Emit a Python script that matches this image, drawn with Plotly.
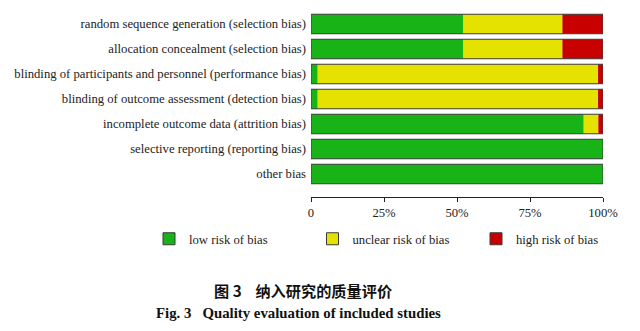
import plotly.graph_objects as go

# Risk-of-bias domains (top to bottom)
domains = [
    "random sequence generation (selection bias)",
    "allocation concealment (selection bias)",
    "blinding of participants and personnel (performance bias)",
    "blinding of outcome assessment (detection bias)",
    "incomplete outcome data (attrition bias)",
    "selective reporting (reporting bias)",
    "other bias",
]

# Percentage of studies per judgement
low_risk = [52.2, 52.2, 2.3, 2.3, 93.4, 100.0, 100.0]
unclear_risk = [33.9, 33.9, 96.0, 96.0, 5.0, 0.0, 0.0]
high_risk = [13.9, 13.9, 1.7, 1.7, 1.6, 0.0, 0.0]

series_names = ["low risk of bias", "unclear risk of bias", "high risk of bias"]
series_colors = ["#17b317", "#e6e200", "#c80000"]

x_tick_vals = [0, 25, 50, 75, 100]
x_tick_text = ["0", "25%", "50%", "75%", "100%"]

pos = list(range(len(domains)))
serif = "Liberation Serif, Times New Roman, serif"
bar_w = 0.78
ink = "#222222"

fig = go.Figure()

# stacked segments, drawn with explicit bases
base = [0.0] * len(domains)
for name, vals, col in zip(series_names, [low_risk, unclear_risk, high_risk], series_colors):
    fig.add_trace(go.Bar(
        y=pos, x=vals, base=list(base), orientation="h", width=bar_w,
        marker=dict(color=col, line=dict(width=0)),
        name=name, showlegend=False, hoverinfo="x+name",
    ))
    base = [b + v for b, v in zip(base, vals)]

# outline around each full bar
fig.add_trace(go.Bar(
    y=pos, x=base, base=[0.0] * len(domains), orientation="h", width=bar_w,
    marker=dict(color="rgba(0,0,0,0)", line=dict(color="#3a3a3a", width=1)),
    showlegend=False, hoverinfo="skip",
))

# legend keys with dark outline
for name, col in zip(series_names, series_colors):
    fig.add_trace(go.Bar(
        y=[None], x=[None], orientation="h", name=name,
        marker=dict(color=col, line=dict(color="#3a3a3a", width=1)),
        showlegend=True,
    ))

fig.update_layout(
    width=640, height=331,
    margin=dict(l=311, r=37, t=5, b=134),
    paper_bgcolor="white", plot_bgcolor="white",
    barmode="overlay",
    font=dict(family=serif, size=12.7, color=ink),
    xaxis=dict(
        range=[0, 100], tickvals=x_tick_vals, ticktext=x_tick_text,
        showgrid=False, zeroline=False, showline=True, linecolor=ink, linewidth=1,
        ticks="outside", ticklen=4, tickcolor=ink, tickwidth=1,
        tickfont=dict(family=serif, size=12.7, color=ink),
        fixedrange=True,
    ),
    # second axis only to draw the upper half of the crossing ticks
    xaxis2=dict(
        overlaying="x", matches="x", anchor="y", side="bottom",
        tickvals=x_tick_vals, showticklabels=False, showgrid=False, zeroline=False,
        showline=False, ticks="inside", ticklen=4, tickcolor=ink, tickwidth=1,
        fixedrange=True,
    ),
    yaxis=dict(
        range=[6.92, -0.76], tickvals=pos, ticktext=domains,
        showgrid=False, zeroline=False, showline=False, ticks="",
        ticklabelstandoff=4,
        tickfont=dict(family=serif, size=12.7, color=ink),
        fixedrange=True,
    ),
    legend=dict(
        orientation="h", x=(149 - 311) / 292, xanchor="left", y=(197 - 239) / 192, yanchor="middle",
        entrywidth=118.5, entrywidthmode="pixels",
        font=dict(family=serif, size=12.7, color=ink),
        bgcolor="rgba(0,0,0,0)", traceorder="normal",
    ),
    annotations=[
        dict(text="<b>图 3\u00a0\u00a0\u00a0\u00a0纳入研究的质量评价</b>", xref="paper", yref="paper",
             x=(302.5 - 311) / 292, y=(197 - 289.5) / 192, xanchor="center", yanchor="middle",
             showarrow=False, font=dict(family="Noto Sans CJK SC", size=15.2, color="#111111")),
        dict(text="<b>Fig. 3\u00a0\u00a0\u00a0Quality evaluation of included studies</b>", xref="paper", yref="paper",
             x=(298.5 - 311) / 292, y=(197 - 313) / 192, xanchor="center", yanchor="middle",
             showarrow=False, font=dict(family=serif, size=14.8, color="#111111")),
    ],
)

fig.write_html("out.html")
